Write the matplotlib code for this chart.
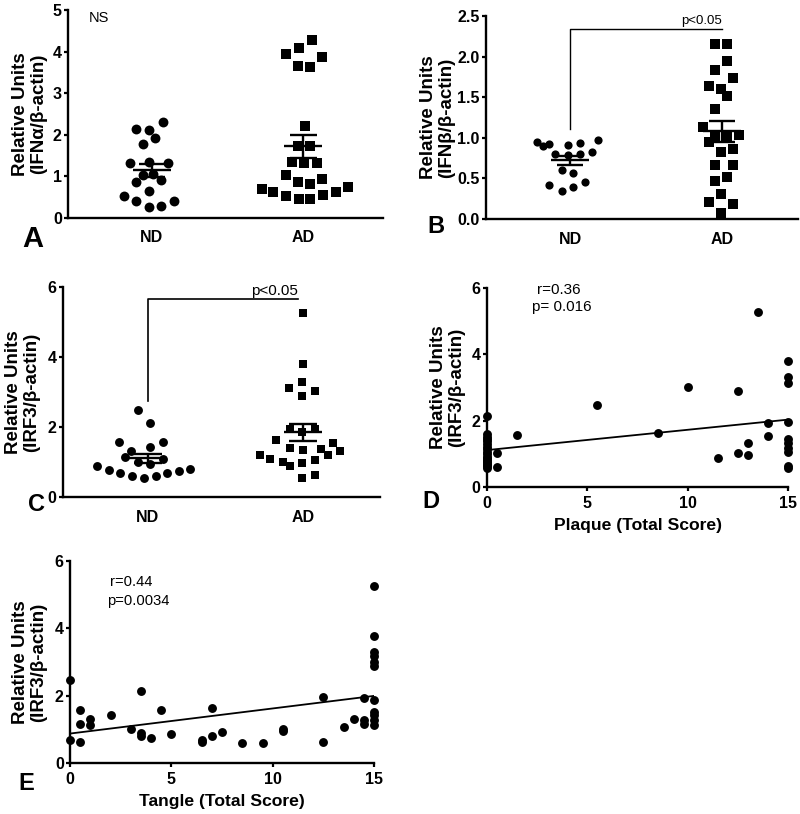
import numpy as np
import matplotlib
matplotlib.use('Agg')
import matplotlib.pyplot as plt

plt.rcParams['font.family'] = ['Liberation Sans', 'DejaVu Sans']

groups = ['ND', 'AD']

# ---- Panel A: IFNalpha ----
a_nd = [2.30, 2.14, 2.12, 1.92, 1.78, 1.32, 1.34, 1.32, 1.04, 1.06, 0.92, 0.86,
        0.64, 0.52, 0.40, 0.40, 0.26, 0.28]
a_nd_jit = [0.073, -0.103, -0.022, 0.022, -0.059, -0.143, -0.022, 0.105, -0.059,
            0.007, 0.062, -0.103, -0.022, -0.187, -0.103, 0.143, -0.022, 0.062]
a_ad = [4.28, 4.08, 3.94, 3.86, 3.66, 3.62, 2.20, 1.72, 1.72, 1.34, 1.32, 1.32,
        1.04, 0.94, 0.86, 0.82, 0.70, 0.62, 0.74, 0.62, 0.54, 0.56, 0.46, 0.46]
a_ad_jit = [0.055, -0.029, -0.116, 0.127, -0.033, 0.048, 0.011, -0.033, 0.044,
            -0.073, 0.007, 0.088, -0.116, 0.127, -0.033, 0.048, -0.275, -0.198,
            0.297, 0.215, -0.116, 0.132, -0.029, 0.048]

# ---- Panel B: IFNbeta ----
b_nd = [0.95, 0.90, 0.92, 0.91, 0.94, 0.97, 0.82, 0.80, 0.79, 0.80, 0.60, 0.57,
        0.42, 0.35, 0.40, 0.46]
b_nd_jit = [-0.219, -0.180, -0.138, -0.015, 0.066, 0.186, 0.143, -0.099, -0.015,
            0.066, -0.055, 0.022, -0.136, -0.055, 0.022, 0.099]
b_ad = [2.16, 2.16, 1.95, 1.83, 1.74, 1.64, 1.60, 1.51, 1.36, 1.13, 1.04, 1.01,
        1.01, 0.95, 0.83, 0.86, 0.67, 0.66, 0.52, 0.47, 0.31, 0.21, 0.19, 0.08]
b_ad_jit = [-0.046, 0.035, 0.035, -0.046, 0.074, -0.086, -0.007, 0.035, -0.046,
            -0.127, 0.114, -0.046, 0.035, -0.086, -0.007, 0.074, -0.046, 0.074,
            0.035, -0.046, -0.007, -0.086, 0.074, -0.007]

# ---- Panel C: IRF3 ----
c_nd = [2.48, 2.12, 1.57, 1.57, 1.31, 1.43, 1.14, 1.10, 1.00, 0.93, 0.88, 0.78,
        0.69, 0.59, 0.54, 0.59, 0.69, 0.73, 0.81]
c_nd_jit = [-0.065, 0.015, -0.187, 0.097, -0.108, 0.015, -0.151, 0.097, -0.065,
            0.015, -0.327, -0.252, -0.178, -0.101, -0.026, 0.049, 0.125, 0.200, 0.273]
c_ad = [5.26, 3.79, 3.29, 3.12, 3.03, 2.88, 1.95, 1.86, 1.95, 1.62, 1.41, 1.33,
        1.38, 1.54, 1.19, 1.31, 1.19, 1.10, 1.00, 0.88, 0.97, 1.07, 0.55, 0.62]
c_ad_jit = [0.0, 0.0, -0.004, -0.090, 0.075, -0.004, -0.086, -0.004, 0.075, -0.172,
            -0.086, 0.0, 0.118, 0.194, 0.161, 0.237, -0.280, -0.211, -0.129, -0.086,
            -0.004, 0.075, -0.004, 0.075]

# ---- Panel D: IRF3 vs plaque score ----
d_x = [0] * 19 + [0.5, 0.5, 1.5, 5.5, 8.5, 10, 11.5, 12.5, 12.5, 13, 13, 13.5, 14, 14] + [15] * 10
d_y = [2.14, 1.60, 1.52, 1.45, 1.38, 1.30, 1.22, 1.14, 1.06, 0.98, 0.90, 0.82,
       0.74, 0.66, 0.58, 0.62, 0.70, 0.78, 0.86,
       1.03, 0.61, 1.58, 2.47, 1.62, 3.02, 0.88, 2.90, 1.02, 1.32, 0.97, 5.27, 1.92, 1.54,
       3.80, 3.31, 3.13, 1.95, 1.45, 1.32, 1.17, 1.07, 0.64, 0.58]

# ---- Panel E: IRF3 vs tangle score ----
e_x = [0, 0, 0.5, 0.5, 0.5, 1, 1, 2, 3, 3.5, 3.5, 3.5, 4, 4.5, 5, 6.5, 6.5, 7, 7,
       7.5, 8.5, 9.5, 10.5, 10.5, 12.5, 12.5, 13.5, 14, 14.5, 14.5, 14.5] + [15] * 11
e_y = [2.47, 0.67, 1.57, 1.16, 0.63, 1.30, 1.12, 1.44, 1.02, 2.13, 0.89, 0.79,
       0.73, 1.57, 0.87, 0.68, 0.62, 1.64, 0.80, 0.92, 0.58, 0.58, 1.00, 0.95,
       1.96, 0.63, 1.07, 1.32, 1.94, 1.29, 1.17,
       5.26, 3.77, 3.30, 3.17, 3.00, 2.88, 1.87, 1.52, 1.42, 1.27, 1.12]

W, H = 800, 814
fig = plt.figure(figsize=(W / 100, H / 100), dpi=100)

YLAB = 13.5
TICK = 11.5


def box(l, r, t, b):
    return [l / W, 1 - b / H, (r - l) / W, (b - t) / H]


def style(ax):
    for s in ['top', 'right']:
        ax.spines[s].set_visible(False)
    for s in ['left', 'bottom']:
        ax.spines[s].set_linewidth(1.7)
    ax.tick_params(axis='y', direction='out', length=3, width=1.6, pad=1.5, labelsize=TICK)
    for lab in ax.get_yticklabels():
        lab.set_fontweight('bold')


def dotplot(ax, nd, ndj, ad, adj, ms_c, ms_s, xlim):
    ax.scatter(np.array(ndj), nd, marker='o', s=ms_c ** 2, color='black',
               linewidths=0, zorder=3, clip_on=False)
    ax.scatter(1 + np.array(adj), ad, marker='s', s=ms_s ** 2, color='black',
               linewidths=0, zorder=3, clip_on=False)
    for i, vals in enumerate([nd, ad]):
        v = np.array(vals)
        m = v.mean()
        se = v.std(ddof=1) / np.sqrt(len(v))
        ax.hlines(m, i - 0.125, i + 0.125, color='black', lw=1.7, zorder=4)
        ax.hlines([m - se, m + se], i - 0.088, i + 0.088, color='black', lw=1.7, zorder=4)
        ax.vlines(i, m - se, m + se, color='black', lw=1.7, zorder=4)
    ax.set_xlim(*xlim)
    ax.set_xticks([0, 1])
    ax.set_xticklabels(groups, fontweight='bold', fontsize=TICK)
    ax.tick_params(axis='x', length=0, pad=9)


# Panel A
axA = fig.add_axes(box(68, 383, 10, 218))
dotplot(axA, a_nd, a_nd_jit, a_ad, a_ad_jit, 7.1, 7.3, (-0.554, 1.527))
axA.set_ylim(0, 5)
axA.set_yticks([0, 1, 2, 3, 4, 5])
style(axA)
axA.set_ylabel('Relative Units\n(IFN\u03b1/\u03b2-actin)', fontsize=YLAB, fontweight='bold',
               linespacing=1.05)
axA.yaxis.set_label_coords(-0.067, 0.5)
axA.text(-0.42, 4.97, 'NS', fontsize=10.5, ha='left', va='top')

# Panel B
axB = fig.add_axes(box(486, 798, 16, 219))
dotplot(axB, b_nd, b_nd_jit, b_ad, b_ad_jit, 5.9, 6.6, (-0.553, 1.5))
axB.set_ylim(0, 2.5)
axB.set_yticks([0, 0.5, 1.0, 1.5, 2.0, 2.5])
axB.set_yticklabels(['0.0', '0.5', '1.0', '1.5', '2.0', '2.5'])
style(axB)
axB.set_ylabel('Relative Units\n(IFN\u03b2/\u03b2-actin)', fontsize=YLAB, fontweight='bold',
               linespacing=1.05)
axB.yaxis.set_label_coords(-0.099, 0.5)
axB.plot([0, 0, 1.0], [1.11, 2.34, 2.34], color='black', lw=1.0, zorder=2)
axB.text(1.0, 2.37, 'p<0.05', fontsize=9.5, ha='right', va='bottom')

# Panel C
axC = fig.add_axes(box(63, 380, 287, 497))
dotplot(axC, c_nd, c_nd_jit, c_ad, c_ad_jit, 6.4, 6.3, (-0.548, 1.497))
axC.set_ylim(0, 6)
axC.set_yticks([0, 2, 4, 6])
style(axC)
axC.set_ylabel('Relative Units\n(IRF3/\u03b2-actin)', fontsize=YLAB, fontweight='bold',
               linespacing=1.05)
axC.yaxis.set_label_coords(-0.073, 0.5)
axC.plot([0, 0, 0.965], [2.74, 5.65, 5.65], color='black', lw=1.2, zorder=2)
axC.text(0.965, 5.68, 'p<0.05', fontsize=11, ha='right', va='bottom')


def scatter_panel(ax, xs, ys, xlabel):
    xs = np.array(xs, dtype=float)
    ys = np.array(ys, dtype=float)
    ax.scatter(xs, ys, marker='o', s=6.4 ** 2, color='black', linewidths=0,
               zorder=3, clip_on=False)
    k, c = np.polyfit(xs, ys, 1)
    xx = np.array([0, 15])
    ax.plot(xx, k * xx + c, color='black', lw=1.3, zorder=2)
    ax.set_xlim(0, 15)
    ax.set_ylim(0, 6)
    ax.set_xticks([0, 5, 10, 15])
    ax.set_yticks([0, 2, 4, 6])
    ax.tick_params(axis='x', direction='out', length=3, width=1.6, pad=3.5, labelsize=TICK)
    for lab in ax.get_xticklabels():
        lab.set_fontweight('bold')
    style(ax)
    ax.set_xlabel(xlabel, fontsize=12.6, fontweight='bold', labelpad=5)
    ax.set_ylabel('Relative Units\n(IRF3/\u03b2-actin)', fontsize=YLAB, fontweight='bold',
                  linespacing=1.05)


# Panel D
axD = fig.add_axes(box(487, 788, 288, 487))
scatter_panel(axD, d_x, d_y, 'Plaque (Total Score)')
axD.yaxis.set_label_coords(-0.073, 0.5)
axD.text(2.49, 5.83, 'r=0.36', fontsize=11, ha='left', va='baseline')
axD.text(2.24, 5.31, 'p= 0.016', fontsize=11, ha='left', va='baseline')

# Panel E
axE = fig.add_axes(box(70, 374, 561, 763))
scatter_panel(axE, e_x, e_y, 'Tangle (Total Score)')
axE.yaxis.set_label_coords(-0.076, 0.5)
axE.text(1.97, 5.26, 'r=0.44', fontsize=10.6, ha='left', va='baseline')
axE.text(1.82, 4.69, 'p=0.0034', fontsize=10.6, ha='left', va='baseline')

# Panel letters
fig.text(22 / W, 1 - 247 / H, 'A', fontsize=21, fontweight='bold', ha='left', va='baseline')
fig.text(427 / W, 1 - 233 / H, 'B', fontsize=17, fontweight='bold', ha='left', va='baseline')
fig.text(28 / W, 1 - 511 / H, 'C', fontsize=17, fontweight='bold', ha='left', va='baseline')
fig.text(422 / W, 1 - 508 / H, 'D', fontsize=17, fontweight='bold', ha='left', va='baseline')
fig.text(18 / W, 1 - 790 / H, 'E', fontsize=17, fontweight='bold', ha='left', va='baseline')

fig.savefig('out.png', dpi=100, facecolor='white')
